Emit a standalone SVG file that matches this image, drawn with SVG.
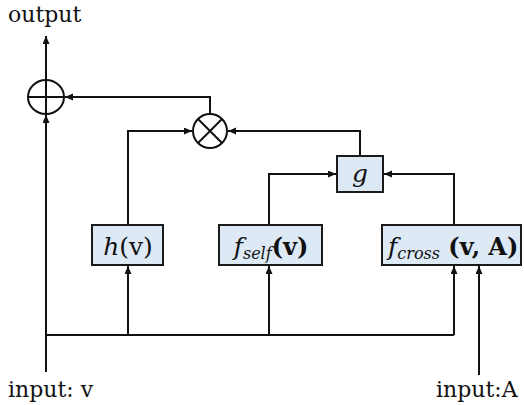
<svg xmlns="http://www.w3.org/2000/svg" width="524" height="405" viewBox="0 0 524 405">
<style>
.ln{fill:none;stroke:#111;stroke-width:2}
.arr{fill:none;stroke:#111;stroke-width:2;marker-end:url(#ah)}
.box{fill:#dde9f5;stroke:#1a1a1a;stroke-width:2}
.lbl{font-family:"DejaVu Serif",serif;font-size:22px;fill:#111}
.mi{font-family:"DejaVu Serif",serif;font-style:italic;font-size:25px;fill:#111}
.sub{font-family:"DejaVu Serif",serif;font-style:italic;font-size:16px;fill:#111}
.bd{font-family:"DejaVu Serif",serif;font-size:24px;font-weight:bold;fill:#111}
.rg{font-family:"DejaVu Serif",serif;font-size:25px;fill:#111}
</style>
<defs>
<marker id="ah" markerUnits="userSpaceOnUse" markerWidth="9" markerHeight="8" refX="8" refY="3.5" orient="auto">
<path d="M0,0 L8,3.5 L0,7 z" fill="#111"/>
</marker>
</defs>
<rect width="524" height="405" fill="#fff"/>
<g id="connectors">
<path class="arr" d="M46,80 V36"/>
<path class="arr" d="M46,372 V115"/>
<path class="arr" d="M210,114 V97 H65"/>
<path class="arr" d="M128,225 V131 H192"/>
<path class="arr" d="M360,156 V131 H228"/>
<path class="arr" d="M269,225 V174 H336"/>
<path class="arr" d="M454,225 V174 H384"/>
<path class="ln" d="M46,335 H454"/>
<path class="arr" d="M128,335 V266"/>
<path class="arr" d="M269,335 V266"/>
<path class="arr" d="M454,335 V266"/>
<path class="arr" d="M479,375 V266"/>
</g>
<g id="output-label"><text class="lbl" x="8" y="22">output</text></g>
<g id="plus">
<ellipse class="ln" cx="46" cy="97" rx="18" ry="17"/>
<path class="ln" d="M28,97 H64 M46,80 V114"/>
</g>
<g id="times">
<circle class="ln" cx="210" cy="131" r="17"/>
<path class="ln" d="M198,119 L222,143 M222,119 L198,143"/>
</g>
<g id="g">
<rect class="box" x="337" y="156" width="46" height="36"/>
<text class="mi" x="360" y="182" text-anchor="middle">g</text>
</g>
<g id="h">
<rect class="box" x="92" y="225" width="71" height="40"/>
<text x="128" y="255" text-anchor="middle"><tspan class="mi">h</tspan><tspan class="rg">(v)</tspan></text>
</g>
<g id="fself">
<rect class="box" x="219" y="225" width="103" height="40"/>
<text x="271" y="255" text-anchor="middle"><tspan class="mi">f</tspan><tspan class="sub" dy="4">self</tspan><tspan class="bd" dy="-4">(v)</tspan></text>
</g>
<g id="fcross">
<rect class="box" x="382" y="225" width="139" height="40"/>
<text x="388" y="255"><tspan class="mi">f</tspan><tspan class="sub" dy="4">cross</tspan><tspan class="bd" dy="-4" xml:space="preserve"> (v, A)</tspan></text>
</g>
<g id="input-v"><text class="lbl" x="8" y="397">input: v</text></g>
<g id="input-A"><text class="lbl" x="436" y="397">input:A</text></g>
</svg>
